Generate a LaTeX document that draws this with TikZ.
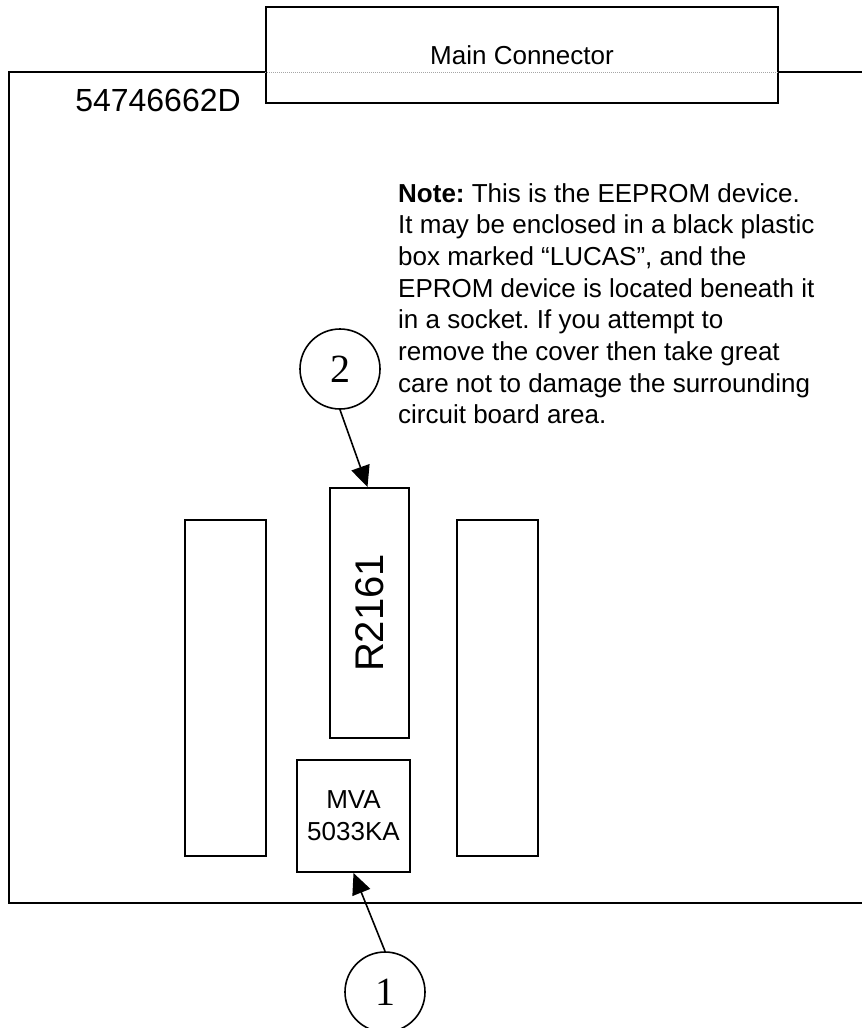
\documentclass[tikz,border=0pt]{standalone}
\usepackage{fontspec}
\setmainfont{Liberation Sans}
\newfontfamily\calloutfont{Liberation Serif}
\usepackage{tikz}
\usetikzlibrary{arrows.meta, positioning}
\frenchspacing

\begin{document}
\begin{tikzpicture}[
		x=1pt, y=-1pt,
		>={Triangle[length=21pt,width=19pt]},
		font=\fontsize{26}{31.7}\selectfont,
		% Board part styles
		chip/.style={
			draw, rectangle,
			inner sep=0pt,
			line width=2pt
		},
		callout/.style={
			draw, circle,
			minimum size=80pt, inner sep=0pt,
			line width=1.6pt,
			font=\calloutfont\fontsize{40}{40}\selectfont
		},
		edge/.style={line width=2pt},
		arrow/.style={->, line width=1.6pt}
	]
	\useasboundingbox (0,0) rectangle (862,1028);

	% Nodes
	\node[chip, minimum width=512pt, minimum height=96pt] (conn) at (522,55)
		{\raisebox{-6pt}{Main Connector}};

	\node[font=\fontsize{32}{32}\selectfont] (partno) at (158,100) {54746662D};

	\node[anchor=north west, align=left, inner sep=0pt] (note) at (398,183)
		{\textbf{Note:} This is the EEPROM device.\\
		It may be enclosed in a black plastic\\
		box marked “LUCAS”, and the\\
		EPROM device is located beneath it\\
		in a socket. If you attempt to\\
		remove the cover then take great\\
		care not to damage the surrounding\\
		circuit board area.};

	\node[chip, minimum width=81pt, minimum height=336pt] (left) at (225.5,688) {};
	\node[chip, minimum width=81pt, minimum height=336pt] (right) at (497.5,688) {};

	\node[chip, minimum width=79pt, minimum height=250pt] (eeprom) at (369.5,613) {};
	\node[rotate=90, font=\fontsize{40}{40}\selectfont] (eeprom-label) at (eeprom.center) {R2161};

	\node[chip, minimum width=113pt, minimum height=112pt, align=center] (mva) at (353.5,816)
		{MVA\\5033KA};

	\node[callout] (two) at (340,369) {2};
	\node[callout] (one) at (385,992) {1};

	% Board outline (runs off the right side)
	\coordinate (board-tl) at (9,72);
	\coordinate (board-bl) at (9,903);
	\coordinate (board-tr) at (862,72);
	\coordinate (board-br) at (862,903);
	\draw[edge] (conn.west |- board-tl) -- (board-tl) -- (board-bl) -- (board-br);
	\draw[edge] (conn.east |- board-tr) -- (board-tr);
	\draw[gray!70, line width=1pt, densely dotted] (conn.west |- board-tl) -- (conn.east |- board-tl);

	% Arrows
	\draw[arrow] (two.south) -- ([xshift=-2pt]eeprom.north);
	\draw[arrow] (one.north) -- (mva.south);

\end{tikzpicture}
\end{document}
